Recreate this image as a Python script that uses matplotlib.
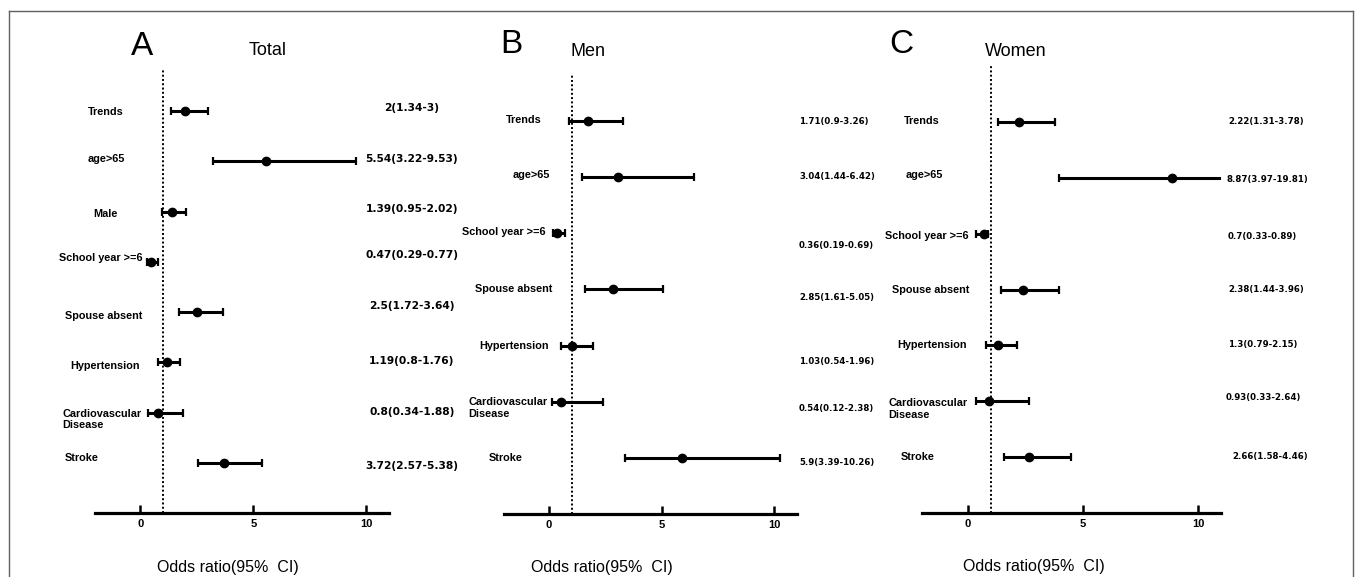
import matplotlib
matplotlib.use("Agg")
import matplotlib.pyplot as plt
from matplotlib.lines import Line2D

plt.rcParams['font.family'] = ['Liberation Sans', 'DejaVu Sans']

# ---------------- data ----------------
total_labels = ["Trends", "age>65", "Male", "School year >=6", "Spouse absent",
                "Hypertension", "Cardiovascular\nDisease", "Stroke"]
total_or = [2, 5.54, 1.39, 0.47, 2.5, 1.19, 0.8, 3.72]
total_lo = [1.34, 3.22, 0.95, 0.29, 1.72, 0.8, 0.34, 2.57]
total_hi = [3, 9.53, 2.02, 0.77, 3.64, 1.76, 1.88, 5.38]

men_labels = ["Trends", "age>65", "School year >=6", "Spouse absent",
              "Hypertension", "Cardiovascular\nDisease", "Stroke"]
men_or = [1.71, 3.04, 0.36, 2.85, 1.03, 0.54, 5.9]
men_lo = [0.9, 1.44, 0.19, 1.61, 0.54, 0.12, 3.39]
men_hi = [3.26, 6.42, 0.69, 5.05, 1.96, 2.38, 10.26]

women_labels = ["Trends", "age>65", "School year >=6", "Spouse absent",
                "Hypertension", "Cardiovascular\nDisease", "Stroke"]
women_or = [2.22, 8.87, 0.7, 2.38, 1.3, 0.93, 2.66]
women_lo = [1.31, 3.97, 0.33, 1.44, 0.79, 0.33, 1.58]
women_hi = [3.78, 19.81, 0.89, 3.96, 2.15, 2.64, 4.46]

panel_letters = ["A", "B", "C"]
panel_titles = ["Total", "Men", "Women"]
x_ticks = [0, 5, 10]
ref_value = 1
x_label = "Odds ratio(95%  CI)"

# ---------------- fonts ----------------
label_family = ["Liberation Sans", "DejaVu Sans"]
label_size = 7.8
value_family = ["DejaVu Sans"]

# ---------------- layout ----------------
W, H = 1355, 577
fig = plt.figure(figsize=(W / 100, H / 100), dpi=100)
fig.patch.set_facecolor("white")

panels = [
    dict(labels=total_labels, orv=total_or, lo=total_lo, hi=total_hi,
         rect=[95, 70, 294, 443], ylim=(8.0, -0.82),
         lab=[("center", 0.037, 1), ("center", 0.037, -2), ("center", 0.037, 2),
              ("right", 0.163, -4), ("left", -0.102, 4), ("left", -0.085, 4),
              ("left", -0.112, 7), ("left", -0.102, -5)],
         val=[("center", 1.078, d) for d in (-3, -2, -3, -7, -6, -1, -1, 3)],
         valsize=7.7, letter=(142, 55), title=(268, 55), xl=(0.452, -0.122)),
    dict(labels=men_labels, orv=men_or, lo=men_lo, hi=men_hi,
         rect=[504, 75, 293, 439], ylim=(7.0, -0.82),
         lab=[("center", 0.068, -1), ("center", 0.092, -2), ("right", 0.143, -1),
              ("right", 0.164, 0), ("left", -0.085, 0), ("left", -0.122, 6.5),
              ("left", -0.051, 0)],
         val=[("left", 1.007, d) for d in (0, -1, 12, 8, 16, 7, 5)],
         valsize=6.2, letter=(511, 53), title=(588, 56), xl=(0.334, -0.123)),
    dict(labels=women_labels, orv=women_or, lo=women_lo, hi=women_hi,
         rect=[922, 65, 299, 448], ylim=(7.0, -1.02),
         lab=[("center", 0.0, -1), ("center", 0.007, -3), ("right", 0.157, 2),
              ("right", 0.157, 0), ("right", 0.151, 0), ("left", -0.112, 7.5),
              ("left", -0.070, 0)],
         val=[("left", 1.023, 0), ("left", 1.020, 2), ("left", 1.023, 3),
              ("left", 1.023, 0), ("left", 1.023, -1), ("left", 1.017, -4),
              ("left", 1.037, -1)],
         valsize=6.2, letter=(901, 53), title=(1016, 56), xl=(0.373, -0.1205)),
]

for i, p in enumerate(panels):
    x0, y0, w, h = p["rect"]
    ax = fig.add_axes([x0 / W, 1 - (y0 + h) / H, w / W, h / H])
    ax.set_facecolor("none")
    ax.set_xlim(-2, 11)
    ax.set_ylim(*p["ylim"])
    n = len(p["labels"])
    ys = list(range(n))
    xerr = [[o - l for o, l in zip(p["orv"], p["lo"])],
            [hh - o for o, hh in zip(p["orv"], p["hi"])]]
    ax.errorbar(p["orv"], ys, xerr=xerr, fmt="o", color="black", ms=6,
                elinewidth=2.2, capsize=2.6, capthick=1.6, zorder=3)
    ax.axvline(ref_value, color="black", lw=1.4, linestyle=(0, (1, 1.2)), zorder=2)

    for s in ("left", "right", "top"):
        ax.spines[s].set_visible(False)
    ax.spines["bottom"].set_linewidth(2.3)
    ax.set_yticks([])
    ax.set_xticks(x_ticks)
    ax.set_xticklabels([str(t) for t in x_ticks], fontweight="bold")
    ax.tick_params(axis="x", direction="in", length=5.5, width=1.8,
                   labelsize=8, pad=4.5)
    ax.set_xlabel(x_label, fontsize=11.5)
    ax.xaxis.set_label_coords(*p["xl"])
    ax.xaxis.label.set_verticalalignment("center")

    trans = ax.get_yaxis_transform()  # x axes fraction, y data
    for k, lab in enumerate(p["labels"]):
        ha, xf, dy = p["lab"][k]
        ax.annotate(lab, xy=(xf, k), xycoords=trans, xytext=(0, -dy * 0.72),
                    textcoords="offset points", ha=ha, va="center",
                    fontsize=label_size, fontweight="bold", family=label_family,
                    linespacing=1.2, annotation_clip=False)
        ha, xf, dy = p["val"][k]
        txt = f"{p['orv'][k]:g}({p['lo'][k]:g}-{p['hi'][k]:g})"
        ax.annotate(txt, xy=(xf, k), xycoords=trans, xytext=(0, -dy * 0.72),
                    textcoords="offset points", ha=ha, va="center",
                    fontsize=p["valsize"], fontweight="bold", family=value_family,
                    annotation_clip=False)

    lx, ly = p["letter"]
    fig.text(lx / W, 1 - ly / H, panel_letters[i], fontsize=24,
             ha="center", va="baseline")
    tx, ty = p["title"]
    fig.text(tx / W, 1 - ty / H, panel_titles[i], fontsize=13,
             ha="center", va="baseline")

# outer frame (top, left, right)
frame = dict(color="#606060", lw=1.0, transform=fig.transFigure)
fig.add_artist(Line2D([9 / W, 1353 / W], [1 - 11 / H, 1 - 11 / H], **frame))
fig.add_artist(Line2D([9 / W, 9 / W], [0, 1 - 11 / H], **frame))
fig.add_artist(Line2D([1353 / W, 1353 / W], [0, 1 - 11 / H], **frame))

fig.savefig("out.png", dpi=100)
